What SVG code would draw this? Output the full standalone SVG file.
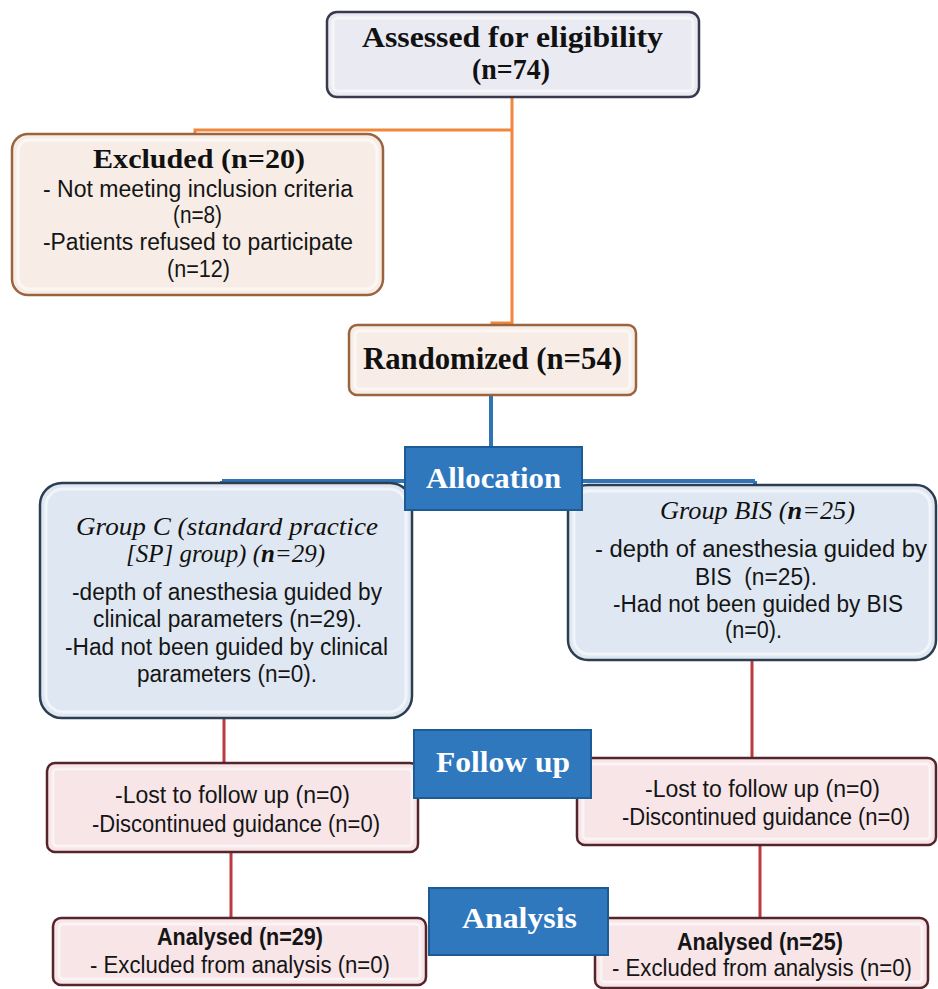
<svg xmlns="http://www.w3.org/2000/svg" width="938" height="989" viewBox="0 0 938 989">
<defs>
<style>
.bg{fill:#ffffff}
.top{fill:#eaeaf2;stroke:#3a3a4e;stroke-width:2.5}
.peach{fill:#f7ede6;stroke:#9a643f;stroke-width:2.5}
.grp{fill:#dfe8f2;stroke:#2c3e50;stroke-width:2.5}
.pink{fill:#f7e5e8;stroke:#55252b;stroke-width:2.5}
.lbl{fill:#2f78bd;stroke:#1d5b95;stroke-width:2}
.bevel{fill:none;stroke:#ffffff;stroke-opacity:0.55;stroke-width:3}
.serifb{font-family:"Liberation Serif","Times New Roman",serif;font-weight:bold;fill:#111;text-anchor:middle}
.serifi{font-family:"Liberation Serif","Times New Roman",serif;font-style:italic;fill:#111;text-anchor:middle;font-size:25px}
.white{font-family:"Liberation Serif","Times New Roman",serif;font-weight:bold;fill:#ffffff;text-anchor:middle;font-size:30px}
.sans{font-family:"Liberation Sans",Arial,sans-serif;fill:#151515;text-anchor:middle;font-size:23.5px}
.sansb{font-family:"Liberation Sans",Arial,sans-serif;fill:#151515;text-anchor:middle;font-size:23.5px;font-weight:bold}
.orange{fill:none;stroke:#f0873a;stroke-width:3}
.blue{fill:none;stroke:#2f74b5;stroke-width:4}
.red{fill:none;stroke:#bb3b40;stroke-width:3}
</style>
</defs>
<rect class="bg" x="0" y="0" width="938" height="989"/>

<g id="connectors">
<path class="orange" d="M512,97 V323 H492 V326"/>
<path class="orange" d="M512,130 H195 V135"/>
<path class="blue" d="M491,395 V448"/>
<path class="blue" d="M222,481 H755 M222,481 V484 M755,481 V486"/>
<path class="red" d="M224,718 V763"/>
<path class="red" d="M752,660 V758"/>
<path class="red" d="M231,852 V918"/>
<path class="red" d="M760,845 V918"/>
</g>

<g id="assessed">
<rect class="top" x="327" y="12" width="372" height="85" rx="10"/>
<rect class="bevel" x="333" y="18" width="360" height="73" rx="5"/>
<text class="serifb" x="512.5" y="47" font-size="29" textLength="301" lengthAdjust="spacingAndGlyphs">Assessed for eligibility</text>
<text class="serifb" x="511" y="79" font-size="29" textLength="78" lengthAdjust="spacingAndGlyphs">(n=74)</text>
</g>

<g id="excluded">
<rect class="peach" x="12" y="134" width="371" height="161" rx="16"/>
<rect class="bevel" x="18" y="140" width="359" height="149" rx="11"/>
<text class="serifb" x="199" y="168" font-size="28" textLength="212" lengthAdjust="spacingAndGlyphs">Excluded (n=20)</text>
<text class="sans" x="198" y="197" textLength="310" lengthAdjust="spacingAndGlyphs">- Not meeting inclusion criteria</text>
<text class="sans" x="197.5" y="223" textLength="49" lengthAdjust="spacingAndGlyphs">(n=8)</text>
<text class="sans" x="198" y="250" textLength="310" lengthAdjust="spacingAndGlyphs">-Patients refused to participate</text>
<text class="sans" x="198.5" y="277" textLength="63" lengthAdjust="spacingAndGlyphs">(n=12)</text>
</g>

<g id="randomized">
<rect class="peach" x="349" y="325" width="287" height="70" rx="8"/>
<rect class="bevel" x="355" y="331" width="275" height="58" rx="4"/>
<text class="serifb" x="492.5" y="369" font-size="31" textLength="259" lengthAdjust="spacingAndGlyphs">Randomized (n=54)</text>
</g>

<g id="groupC">
<rect class="grp" x="40" y="483" width="372" height="235" rx="22"/>
<rect class="bevel" x="46" y="489" width="360" height="223" rx="17"/>
<text class="serifi" x="227" y="535" textLength="302" lengthAdjust="spacingAndGlyphs">Group C (standard practice</text>
<text class="serifi" x="225.5" y="562" textLength="199" lengthAdjust="spacingAndGlyphs">[SP] group) (<tspan font-weight="bold">n</tspan>=29)</text>
<text class="sans" x="227" y="600" textLength="310" lengthAdjust="spacingAndGlyphs">-depth of anesthesia guided by</text>
<text class="sans" x="227.5" y="627" textLength="269" lengthAdjust="spacingAndGlyphs">clinical parameters (n=29).</text>
<text class="sans" x="226.5" y="655" textLength="323" lengthAdjust="spacingAndGlyphs">-Had not been guided by clinical</text>
<text class="sans" x="227" y="682" textLength="180" lengthAdjust="spacingAndGlyphs">parameters (n=0).</text>
</g>

<g id="groupBIS">
<rect class="grp" x="568" y="485" width="368" height="175" rx="20"/>
<rect class="bevel" x="574" y="491" width="356" height="163" rx="15"/>
<text class="serifi" x="757.5" y="519" textLength="195" lengthAdjust="spacingAndGlyphs">Group BIS (<tspan font-weight="bold">n</tspan>=25)</text>
<text class="sans" x="761" y="557" textLength="332" lengthAdjust="spacingAndGlyphs">- depth of anesthesia guided by</text>
<text class="sans" x="756" y="585" textLength="122" lengthAdjust="spacingAndGlyphs" xml:space="preserve">BIS  (n=25).</text>
<text class="sans" x="758" y="612" textLength="290" lengthAdjust="spacingAndGlyphs">-Had not been guided by BIS</text>
<text class="sans" x="753.5" y="638" textLength="57" lengthAdjust="spacingAndGlyphs">(n=0).</text>
</g>

<g id="followLeft">
<rect class="pink" x="47" y="763" width="371" height="89" rx="8"/>
<rect class="bevel" x="53" y="769" width="359" height="77" rx="4"/>
<text class="sans" x="232.5" y="803" textLength="235" lengthAdjust="spacingAndGlyphs">-Lost to follow up (n=0)</text>
<text class="sans" x="236" y="832" textLength="288" lengthAdjust="spacingAndGlyphs">-Discontinued guidance (n=0)</text>
</g>

<g id="followRight">
<rect class="pink" x="577" y="758" width="359" height="87" rx="8"/>
<rect class="bevel" x="583" y="764" width="347" height="75" rx="4"/>
<text class="sans" x="762.5" y="797" textLength="235" lengthAdjust="spacingAndGlyphs">-Lost to follow up (n=0)</text>
<text class="sans" x="766" y="825" textLength="288" lengthAdjust="spacingAndGlyphs">-Discontinued guidance (n=0)</text>
</g>

<g id="analysedLeft">
<rect class="pink" x="53" y="918" width="373" height="67" rx="8"/>
<rect class="bevel" x="59" y="924" width="361" height="55" rx="4"/>
<text class="sansb" x="240" y="945" textLength="166" lengthAdjust="spacingAndGlyphs">Analysed (n=29)</text>
<text class="sans" x="240" y="973" textLength="300" lengthAdjust="spacingAndGlyphs">- Excluded from analysis (n=0)</text>
</g>

<g id="analysedRight">
<rect class="pink" x="595" y="918" width="333" height="70" rx="8"/>
<rect class="bevel" x="601" y="924" width="321" height="58" rx="4"/>
<text class="sansb" x="760" y="950" textLength="166" lengthAdjust="spacingAndGlyphs">Analysed (n=25)</text>
<text class="sans" x="762" y="976" textLength="300" lengthAdjust="spacingAndGlyphs">- Excluded from analysis (n=0)</text>
</g>

<g id="allocation">
<rect class="lbl" x="405" y="447" width="177" height="63"/>
<text class="white" x="493.5" y="488" textLength="135" lengthAdjust="spacingAndGlyphs">Allocation</text>
</g>

<g id="followup">
<rect class="lbl" x="414" y="730" width="177" height="68"/>
<text class="white" x="503" y="772" textLength="134" lengthAdjust="spacingAndGlyphs">Follow up</text>
</g>

<g id="analysis">
<rect class="lbl" x="429" y="888" width="179" height="67"/>
<text class="white" x="519.5" y="928" textLength="115" lengthAdjust="spacingAndGlyphs">Analysis</text>
</g>
</svg>
